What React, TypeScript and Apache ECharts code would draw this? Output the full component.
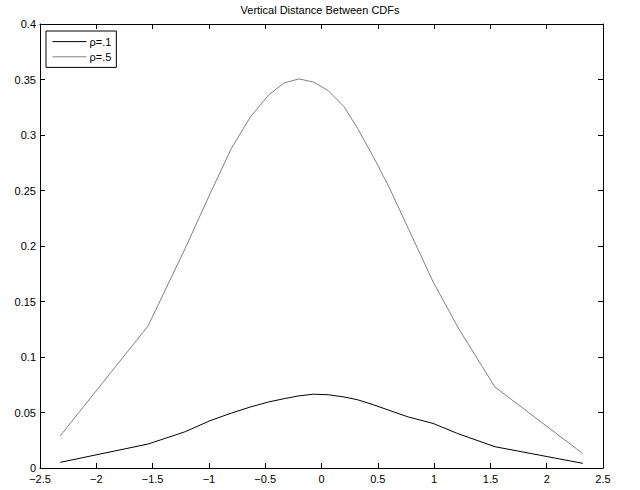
import React, { useEffect, useRef } from "react";
import * as echarts from "echarts";

const xValues = [-2.32, -1.54, -1.21, -0.99, -0.8, -0.63, -0.47, -0.33, -0.2, -0.07, 0.06, 0.2, 0.32, 0.46, 0.6, 0.77, 0.99, 1.21, 1.54, 2.32];
const rho1Values = [0.0051, 0.0216, 0.0327, 0.0426, 0.0495, 0.055, 0.0595, 0.0625, 0.065, 0.0665, 0.066, 0.064, 0.0615, 0.057, 0.052, 0.046, 0.0402, 0.031, 0.0192, 0.0042];
const rho5Values = [0.029, 0.128, 0.198, 0.247, 0.288, 0.3165, 0.336, 0.347, 0.3505, 0.3477, 0.34, 0.3255, 0.306, 0.2805, 0.253, 0.216, 0.168, 0.127, 0.073, 0.013];
const seriesNames = ["ρ=.1", "ρ=.5"];
const titleText = "Vertical Distance Between CDFs";

const FONT = "'Liberation Sans', Arial, Helvetica, sans-serif";

function fmtX(v: number): string {
  const s = String(+v.toFixed(2));
  return s.startsWith("-") ? "\u2212" + s.slice(1) : s;
}
function fmtY(v: number): string {
  return String(+v.toFixed(2));
}

export default function App() {
  const ref = useRef<HTMLDivElement>(null);
  useEffect(() => {
    if (!ref.current) return;
    const chart = echarts.init(ref.current, undefined, { renderer: "svg" });
    const axisCommon = {
      type: "value" as const,
      axisLine: { show: true, onZero: false, lineStyle: { color: "#000", width: 1 } },
      axisTick: { show: true, inside: true, length: 5, lineStyle: { color: "#000", width: 1 } },
      splitLine: { show: false },
    };
    chart.setOption({
      animation: false,
      backgroundColor: "#fff",
      title: {
        text: titleText,
        left: "center",
        top: 4,
        padding: 0,
        textStyle: { fontFamily: FONT, fontSize: 11, fontWeight: "normal", color: "#000" },
      },
      legend: {
        orient: "vertical",
        left: 46,
        top: 31,
        padding: [5, 5, 5, 6],
        itemGap: 4,
        itemWidth: 34,
        itemHeight: 14,
        borderColor: "#000",
        borderWidth: 1,
        backgroundColor: "#fff",
        itemStyle: { opacity: 0 },
        lineStyle: { width: 1 },
        textStyle: { fontFamily: FONT, fontSize: 11, color: "#000", padding: [0, 0, 0, -2] },
        data: seriesNames,
      },
      grid: { left: 40, right: 37, top: 24, bottom: 22, containLabel: false },
      xAxis: [
        {
          ...axisCommon,
          position: "bottom",
          min: -2.5,
          max: 2.5,
          interval: 0.5,
          axisLabel: { show: true, fontFamily: FONT, fontSize: 11, color: "#000", margin: 5, formatter: fmtX, showMinLabel: true, showMaxLabel: true },
        },
        {
          ...axisCommon,
          position: "top",
          min: -2.5,
          max: 2.5,
          interval: 0.5,
          axisLabel: { show: false },
        },
      ],
      yAxis: [
        {
          ...axisCommon,
          position: "left",
          min: 0,
          max: 0.4,
          interval: 0.05,
          axisLabel: { show: true, fontFamily: FONT, fontSize: 11, color: "#000", margin: 4, formatter: fmtY },
        },
        {
          ...axisCommon,
          position: "right",
          min: 0,
          max: 0.4,
          interval: 0.05,
          axisLabel: { show: false },
        },
      ],
      series: [
        {
          name: seriesNames[0],
          type: "line",
          xAxisIndex: 0,
          yAxisIndex: 0,
          symbol: "none",
          showSymbol: false,
          lineStyle: { color: "#000", width: 1 },
          itemStyle: { color: "#000" },
          data: xValues.map((x, i) => [x, rho1Values[i]]),
        },
        {
          name: seriesNames[1],
          type: "line",
          xAxisIndex: 0,
          yAxisIndex: 0,
          symbol: "none",
          showSymbol: false,
          lineStyle: { color: "#808080", width: 1 },
          itemStyle: { color: "#808080" },
          data: xValues.map((x, i) => [x, rho5Values[i]]),
        },
      ],
    });
    return () => chart.dispose();
  }, []);
  return (
    <div
      ref={ref}
      style={{ position: "fixed", left: 0, top: 0, width: 640, height: 490, background: "#fff" }}
    />
  );
}
